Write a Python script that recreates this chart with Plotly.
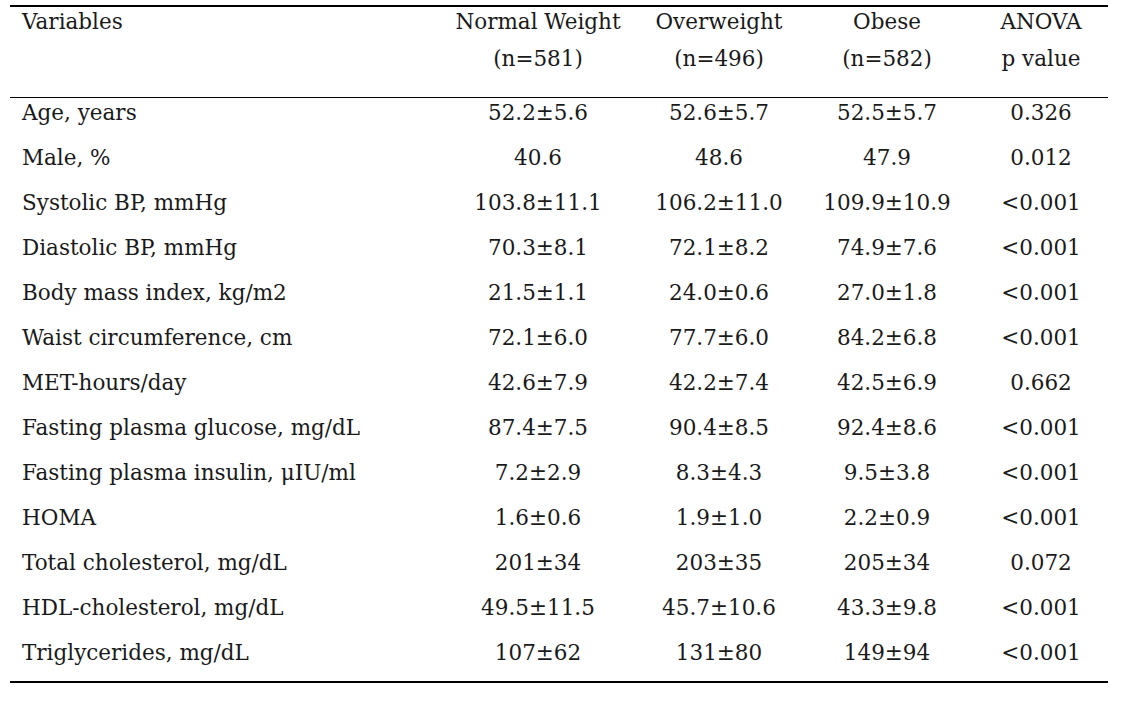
import plotly.graph_objects as go

# ---- data ----
header_top = ["Variables", "Normal Weight", "Overweight", "Obese", "ANOVA"]
header_bottom = ["", "(n=581)", "(n=496)", "(n=582)", "p value"]
variables = [
    "Age, years", "Male, %", "Systolic BP, mmHg", "Diastolic BP, mmHg",
    "Body mass index, kg/m2", "Waist circumference, cm", "MET-hours/day",
    "Fasting plasma glucose, mg/dL", "Fasting plasma insulin, μIU/ml", "HOMA",
    "Total cholesterol, mg/dL", "HDL-cholesterol, mg/dL", "Triglycerides, mg/dL",
]
normal_weight = ["52.2±5.6", "40.6", "103.8±11.1", "70.3±8.1", "21.5±1.1", "72.1±6.0",
                 "42.6±7.9", "87.4±7.5", "7.2±2.9", "1.6±0.6", "201±34", "49.5±11.5", "107±62"]
overweight = ["52.6±5.7", "48.6", "106.2±11.0", "72.1±8.2", "24.0±0.6", "77.7±6.0",
              "42.2±7.4", "90.4±8.5", "8.3±4.3", "1.9±1.0", "203±35", "45.7±10.6", "131±80"]
obese = ["52.5±5.7", "47.9", "109.9±10.9", "74.9±7.6", "27.0±1.8", "84.2±6.8",
         "42.5±6.9", "92.4±8.6", "9.5±3.8", "2.2±0.9", "205±34", "43.3±9.8", "149±94"]
anova_p = ["0.326", "0.012", "<0.001", "<0.001", "<0.001", "<0.001", "0.662",
           "<0.001", "<0.001", "<0.001", "0.072", "<0.001", "<0.001"]

# ---- layout constants (pixel units on x, row units on y) ----
W, H = 1141, 702
ROW_PX = 45.0
ROW0_PX = 114.5
def px_to_row(p):
    return (p - ROW0_PX) / ROW_PX

col_left = 22
col_centers = [538, 719, 887, 1041]
header_rows = [px_to_row(23.5), px_to_row(60.5)]
rule_top, rule_mid, rule_bot = px_to_row(6), px_to_row(97.5), px_to_row(682)
rule_x0, rule_x1 = 10, 1108

FONT = dict(family="DejaVu Serif", size=21.5, color="#1a1a1a")

rows = list(range(len(variables)))
fig = go.Figure()

def add_text(xs, ys, texts, pos):
    fig.add_trace(go.Scatter(x=xs, y=ys, text=texts, mode="text", textposition=pos,
                             textfont=FONT, hoverinfo="skip", showlegend=False,
                             cliponaxis=False))

# header
add_text([col_left], [header_rows[0]], [header_top[0]], "middle right")
add_text(col_centers, [header_rows[0]] * 4, header_top[1:], "middle center")
add_text(col_centers, [header_rows[1]] * 4, header_bottom[1:], "middle center")

# body
add_text([col_left] * len(rows), rows, variables, "middle right")
for cx, col in zip(col_centers, [normal_weight, overweight, obese, anova_p]):
    add_text([cx] * len(rows), rows, col, "middle center")

# rules
for yv, w in [(rule_top, 2), (rule_mid, 1), (rule_bot, 2)]:
    fig.add_shape(type="line", xref="x", yref="y", x0=rule_x0, x1=rule_x1, y0=yv, y1=yv,
                  line=dict(color="black", width=w))

fig.update_layout(
    width=W, height=H, margin=dict(l=0, r=0, t=0, b=0),
    paper_bgcolor="white", plot_bgcolor="white",
    xaxis=dict(range=[0, W], visible=False, fixedrange=True),
    yaxis=dict(range=[px_to_row(H), px_to_row(0)], visible=False, fixedrange=True),
)
fig.write_html("out.html", config={"displayModeBar": False},
               post_script="document.body.style.margin='0';document.body.style.overflow='hidden';")
